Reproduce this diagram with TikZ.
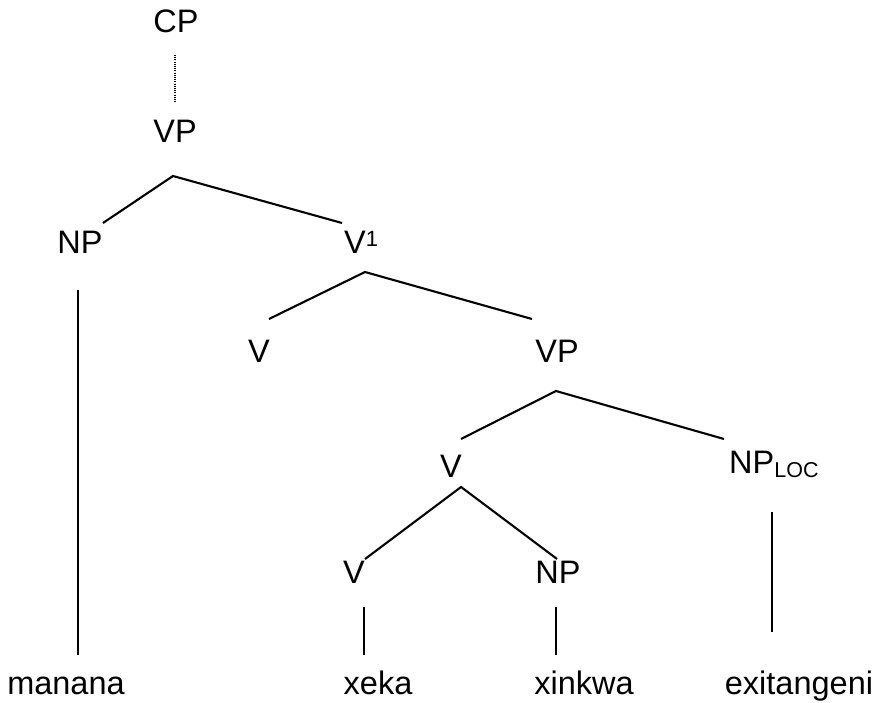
\documentclass[tikz,border=0pt]{standalone}
\usepackage{fontspec}
\setmainfont{Liberation Sans}
\begin{document}
\begin{tikzpicture}[x=1pt,y=-1pt,
  lbl/.style={inner sep=0pt,anchor=base,font=\fontsize{32.5}{36}\selectfont},
  lblw/.style={lbl,anchor=base west},
  branch/.style={line width=2.1pt,line join=miter},
  dotline/.style={line width=1.4pt,dash pattern=on 1.1pt off 1.1pt}]
\useasboundingbox (0,0) rectangle (877,703);
\newcommand{\supone}{\raisebox{6pt}{\fontsize{22}{22}\selectfont 1}}
\newcommand{\subloc}{\raisebox{-4.5pt}{\fontsize{21.5}{22}\selectfont LOC}}
% labels
\node[lbl] (cp) at (176,33) {CP};
\node[lbl] (vpa) at (175,143) {VP};
\node[lbl] (npa) at (80,253) {NP};
\node[lblw] (vbar) at (344,253) {V\supone};
\node[lbl] (va) at (259,362) {V};
\node[lbl] (vpb) at (557,362) {VP};
\node[lbl] (vb) at (451,477) {V};
\node[lblw] (nploc) at (729,473) {NP\subloc};
\node[lbl] (vc) at (354,583) {V};
\node[lbl] (npb) at (558,583) {NP};
\node[lbl] (w1) at (66,694) {manana};
\node[lbl] (w2) at (378,694) {xeka};
\node[lbl] (w3) at (584,694) {xinkwa};
\node[lbl] (w4) at (799,694) {exitangeni};
% connector points
\coordinate (cpb) at (175,55);
\coordinate (vpat) at (175,103);
\coordinate (apA) at (173,176);
\coordinate (npaT) at (103,223);
\coordinate (vbarT) at (342,223);
\coordinate (apB) at (365,272);
\coordinate (vaT) at (269,319);
\coordinate (vpbT) at (532,319);
\coordinate (apC) at (556,391);
\coordinate (vbT) at (461,439);
\coordinate (nplocT) at (724,439);
\coordinate (apD) at (461,487);
\coordinate (vcT) at (365,559);
\coordinate (npbT) at (557,559);
\coordinate (npaB) at (78,290);
\coordinate (w1T) at (78,655);
\coordinate (vcB) at (364,607);
\coordinate (w2T) at (364,655);
\coordinate (npbB) at (556,607);
\coordinate (w3T) at (556,655);
\coordinate (nplocB) at (772,512);
\coordinate (w4T) at (772,632);
% connectors
\draw[dotline] (cpb) -- (vpat);
\draw[branch] (npaT) -- (apA) -- (vbarT);
\draw[branch] (vaT) -- (apB) -- (vpbT);
\draw[branch] (vbT) -- (apC) -- (nplocT);
\draw[branch] (vcT) -- (apD) -- (npbT);
\draw[branch] (npaB) -- (w1T);
\draw[branch] (vcB) -- (w2T);
\draw[branch] (npbB) -- (w3T);
\draw[branch] (nplocB) -- (w4T);
\end{tikzpicture}
\end{document}
